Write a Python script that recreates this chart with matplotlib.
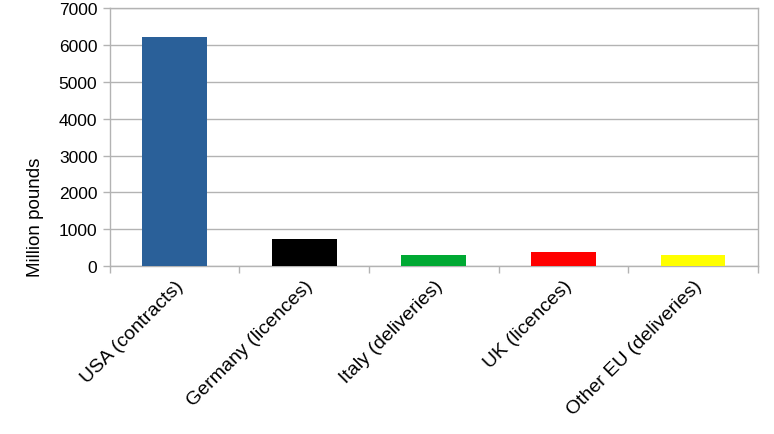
import numpy as np
from matplotlib import pyplot as plt

categories = ["USA (contracts)", "Germany (licences)", "Italy (deliveries)",
              "UK (licences)", "Other EU (deliveries)"]
values = [6210, 730, 300, 380, 300]
colors = ["#2a6099", "#000000", "#00a933", "#ff0000", "#ffff00"]

plt.rcParams['font.family'] = ['Liberation Sans', 'DejaVu Sans']

fig = plt.figure(figsize=(7.74, 4.35), dpi=100)
ax = fig.add_axes([0.142, 0.386, 0.837, 0.593])

x = np.arange(len(categories))
ax.bar(x, values, width=0.5, color=colors, zorder=3)

ax.set_xlim(-0.5, len(categories) - 0.5)
ax.set_ylim(0, 7000)
ax.set_yticks(range(0, 7001, 1000))
ax.yaxis.grid(True, color="#b3b3b3", linewidth=1, zorder=0)

ax.set_xticks(x)
ax.set_xticklabels(categories, rotation=45, ha='right', rotation_mode='anchor', fontsize=14)
ax.set_xticks(np.arange(-0.5, len(categories), 1), minor=True)
ax.tick_params(axis='x', which='major', length=0, pad=8)
ax.tick_params(axis='x', which='minor', length=5, color="#b3b3b3", width=1)
ax.tick_params(axis='y', length=5, color="#b3b3b3", width=1, labelsize=12.5, pad=4)

for s in ax.spines.values():
    s.set_color("#b3b3b3")
    s.set_linewidth(1)

fig.text(35 / 774, 1 - 217 / 435, "Million pounds", rotation=90, fontsize=13.5,
         ha='center', va='center')

fig.savefig("out.png", dpi=100)
